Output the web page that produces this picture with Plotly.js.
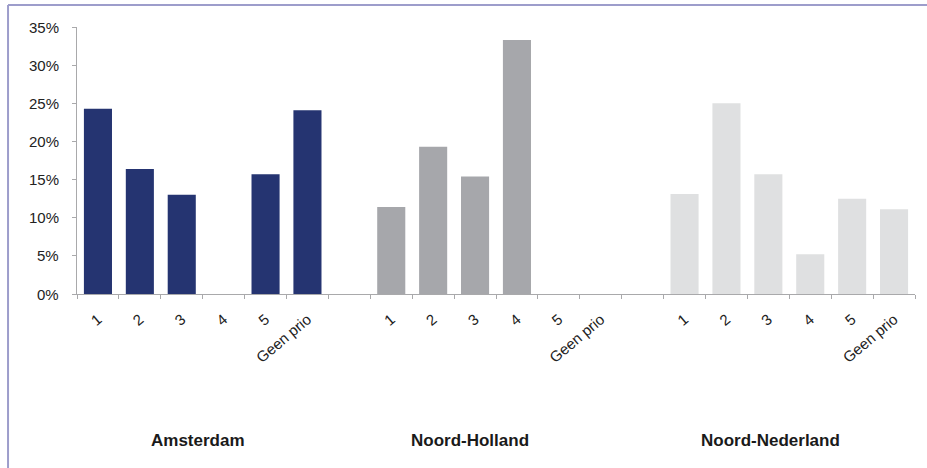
<!DOCTYPE html>
<html>
<head>
<meta charset="utf-8">
<script src="https://cdn.plot.ly/plotly-3.0.1.min.js"></script>
<style>
  html, body { margin: 0; padding: 0; background: #fff; }
  #chart { width: 927px; height: 468px; }
</style>
</head>
<body>
<div id="chart"></div>
<script>
// Priority shares per region (percent)
const regions = ['Amsterdam', 'Noord-Holland', 'Noord-Nederland'];
const prioLabels = ['1', '2', '3', '4', '5', 'Geen prio'];
const amsterdam = [24.3, 16.4, 13.0, 0, 15.7, 24.1];
const noordHolland = [11.4, 19.3, 15.4, 33.3, 0, 0];
const noordNederland = [13.1, 25.0, 15.7, 5.2, 12.5, 11.1];
const yTicks = [0, 5, 10, 15, 20, 25, 30, 35];

const seriesValues = [amsterdam, noordHolland, noordNederland];
const colors = ['#253471', '#a6a7ab', '#dfe0e1'];

// each region takes six slots plus one empty spacer slot
const slotsPerGroup = prioLabels.length + 1;
const totalSlots = regions.length * slotsPerGroup - 1;

const traces = seriesValues.map((vals, g) => ({
  type: 'bar',
  x: vals.map((_, i) => g * slotsPerGroup + i),
  y: vals,
  marker: { color: colors[g], line: { width: 0 } },
  width: 0.67,
  hoverinfo: 'skip',
  showlegend: false
}));

// invisible trace so the boundary-tick axis is rendered
traces.push({ type: 'scatter', x: [0], y: [0], xaxis: 'x2', mode: 'markers',
  marker: { opacity: 0 }, hoverinfo: 'skip', showlegend: false });

const tickvals = [], ticktext = [];
regions.forEach((r, g) => prioLabels.forEach((p, i) => {
  tickvals.push(g * slotsPerGroup + i);
  ticktext.push(p);
}));
const boundaries = [];
for (let i = 0; i <= totalSlots; i++) boundaries.push(i - 0.5);

const textFont = 'Liberation Sans, Arial, sans-serif';

// region names under each group of bars
const titleOffsets = [2.39, 1.88, 2.06];
const annotations = regions.map((r, g) => ({
  text: '<b>' + r + '</b>',
  xref: 'x', yref: 'paper',
  x: g * slotsPerGroup + titleOffsets[g], y: -0.55,
  xanchor: 'center', yanchor: 'middle',
  showarrow: false,
  font: { family: textFont, size: 17, color: '#1a1a1a' }
}));

// percentage labels for the value axis, set a little away from the tick marks
yTicks.forEach(v => annotations.push({
  text: v + '%',
  xref: 'paper', yref: 'y',
  x: -0.019, y: v,
  xanchor: 'right', yanchor: 'middle',
  showarrow: false,
  font: { family: textFont, size: 15, color: '#222' }
}));

const axisGrey = '#a9a9ab';
const frameColor = '#9d9dcb';
const layout = {
  width: 927, height: 468,
  margin: { l: 77, r: 12, t: 27, b: 174 },
  paper_bgcolor: '#fff', plot_bgcolor: '#fff',
  font: { family: textFont, size: 15, color: '#222' },
  xaxis: {
    range: [-0.5, totalSlots - 0.5],
    tickmode: 'array', tickvals: tickvals, ticktext: ticktext,
    tickangle: -40, ticks: '', ticklabelstandoff: 10,
    showgrid: false, zeroline: false,
    showline: true, linecolor: axisGrey, linewidth: 1,
    tickfont: { size: 15, color: '#222' }, fixedrange: true
  },
  xaxis2: {
    overlaying: 'x', anchor: 'y', side: 'bottom',
    range: [-0.5, totalSlots - 0.5],
    tickmode: 'array', tickvals: boundaries,
    ticks: 'outside', ticklen: 4, tickcolor: axisGrey, tickwidth: 1,
    showticklabels: false, showgrid: false, zeroline: false, showline: false
  },
  yaxis: {
    range: [0, 35], tickmode: 'array', tickvals: yTicks,
    showticklabels: false,
    ticks: 'outside', ticklen: 4, tickcolor: axisGrey,
    showgrid: false, zeroline: false, showline: true, linecolor: axisGrey,
    linewidth: 1, fixedrange: true
  },
  bargap: 0.33,
  annotations: annotations,
  shapes: [
    { type: 'line', xref: 'paper', yref: 'paper', x0: -0.0823, x1: 1.02, y0: 1.082, y1: 1.082,
      line: { color: frameColor, width: 2 } },
    { type: 'line', xref: 'paper', yref: 'paper', x0: -0.0823, x1: -0.0823, y0: 1.082, y1: -0.66,
      line: { color: frameColor, width: 2 } }
  ]
};

Plotly.newPlot('chart', traces, layout, { displayModeBar: false, staticPlot: true });
</script>
</body>
</html>
